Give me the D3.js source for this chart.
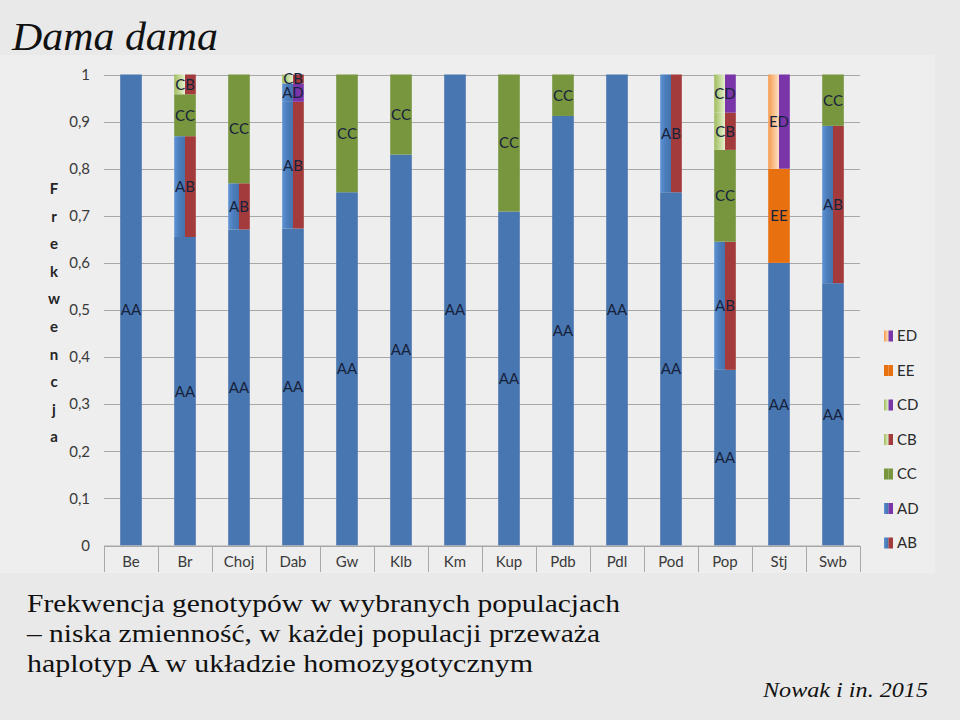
<!DOCTYPE html>
<html><head><meta charset="utf-8">
<script src="https://cdn.jsdelivr.net/npm/d3@7"></script>
<style>html,body{margin:0;padding:0;background:#e9e9e9;}svg{display:block;}</style>
</head><body>
<svg id="c" width="960" height="720"></svg>
<script>
const categories = ["Be","Br","Choj","Dab","Gw","Klb","Km","Kup","Pdb","Pdl","Pod","Pop","Stj","Swb"];
const genotypes = ["AA","AB","AD","CC","CB","CD","EE","ED"];
const AA = [1.000,0.655,0.671,0.673,0.750,0.830,1.000,0.709,0.912,1.000,0.750,0.373,0.600,0.557];
const AB = [0,    0.214,0.098,0.269,0,    0,    0,    0,    0,    0,    0.250,0.272,0,    0.334];
const AD = [0,    0,    0,    0.039,0,    0,    0,    0,    0,    0,    0,    0,    0,    0    ];
const CC = [0,    0.089,0.231,0,    0.250,0.170,0,    0.291,0.088,0,    0,    0.195,0,    0.109];
const CB = [0,    0.042,0,    0.019,0,    0,    0,    0,    0,    0,    0,    0.079,0,    0    ];
const CD = [0,    0,    0,    0,    0,    0,    0,    0,    0,    0,    0,    0.081,0,    0    ];
const EE = [0,    0,    0,    0,    0,    0,    0,    0,    0,    0,    0,    0,    0.200,0    ];
const ED = [0,    0,    0,    0,    0,    0,    0,    0,    0,    0,    0,    0,    0.200,0    ];
const yTicks = [0,0.1,0.2,0.3,0.4,0.5,0.6,0.7,0.8,0.9,1];
const yTitle = "Frekwencja";
const legendItems = ["ED","EE","CD","CB","CC","AD","AB"];
const title = "Dama dama";
const subtitle = ["Frekwencja genotypów w wybranych populacjach","– niska zmienność, w każdej populacji przeważa","haplotyp A w układzie homozygotycznym"];
const source = "Nowak i in. 2015";

const seriesVals = {AA,AB,AD,CC,CB,CD,EE,ED};
const rows = categories.map((c,i)=>{const r={cat:c}; genotypes.forEach(g=>r[g]=seriesVals[g][i]); return r;});

// colours: [left half, right half]
const BLUE="#4876b0", RED="#a33a3b", GREEN="#77963d", PURPLE="#7a35a8", ORANGE="#e8700f";
const colors = {
  AA:[BLUE,BLUE], AB:["gBlue",RED], AD:["gBlue",PURPLE], CC:[GREEN,GREEN],
  CB:["gLgreen",RED], CD:["gLgreen",PURPLE], EE:[ORANGE,ORANGE], ED:["gOrange",PURPLE]
};

const svg = d3.select("#c");
const defs = svg.append("defs");
function grad(id, stops){
  const g = defs.append("linearGradient").attr("id",id).attr("x1","0").attr("x2","1").attr("y1","0").attr("y2","0");
  stops.forEach(s=>g.append("stop").attr("offset",s[0]).attr("stop-color",s[1]));
}
grad("gBlue",[[0,"#5d93d4"],[0.5,"#4b7cbb"],[1,"#4673ac"]]);
grad("gLgreen",[[0,"#9fbc5e"],[0.6,"#c9dca0"],[1,"#e6efcf"]]);
grad("gOrange",[[0,"#f59a4e"],[0.6,"#fbc594"],[1,"#fde1c8"]]);
const fillOf = c => c.startsWith("g") ? `url(#${c})` : c;

// slide background + chart area
svg.append("rect").attr("width",960).attr("height",720).attr("fill","#e9e9e9");
svg.append("rect").attr("x",0).attr("y",55).attr("width",935).attr("height",518).attr("fill","#eeeeee");

const x = d3.scaleBand().domain(categories).range([104,860]).paddingInner(0.6).paddingOuter(0.3);
const y = d3.scaleLinear().domain([0,1]).range([545.5,74.5]);

// gridlines
svg.append("g").selectAll("line").data(yTicks).join("line")
  .attr("x1",104).attr("x2",860).attr("y1",d=>Math.round(y(d))+0.5).attr("y2",d=>Math.round(y(d))+0.5)
  .attr("stroke","#a8a8a8").attr("stroke-width",1);

// y axis labels
const fmt = d => d===0?"0":d===1?"1":d3.format(".1f")(d).replace(".",",");
svg.append("g").selectAll("text").data(yTicks).join("text")
  .attr("x",90).attr("y",d=>y(d)).attr("dy","0.35em").attr("text-anchor","end")
  .attr("font-family","Lato, 'Open Sans', sans-serif").attr("font-size",15).attr("fill","#3a3a3a")
  .text(fmt);

// y title stacked letters
svg.append("g").selectAll("text").data(yTitle.split("")).join("text")
  .attr("x",54).attr("y",(d,i)=>194+i*27.6).attr("text-anchor","middle")
  .attr("font-family","Lato, 'Open Sans', sans-serif").attr("font-weight","bold").attr("font-size",15).attr("fill","#262626")
  .text(d=>d);

// stacked bars
const stack = d3.stack().keys(genotypes)(rows);
const bw = x.bandwidth();
const segs = [];
stack.forEach(layer=>{
  layer.forEach(d=>{
    if (d[1]-d[0] > 1e-6) segs.push({g:layer.key, cat:d.data.cat, y0:d[0], y1:d[1]});
  });
});
const barG = svg.append("g");
segs.forEach(s=>{
  const [cl,cr] = colors[s.g];
  const x0 = x(s.cat), yt = y(s.y1), h = y(s.y0)-y(s.y1);
  if (cl===cr){
    barG.append("rect").attr("x",x0).attr("y",yt).attr("width",bw).attr("height",h).attr("fill",fillOf(cl));
  } else {
    barG.append("rect").attr("x",x0).attr("y",yt).attr("width",bw/2).attr("height",h).attr("fill",fillOf(cl));
    barG.append("rect").attr("x",x0+bw/2).attr("y",yt).attr("width",bw/2).attr("height",h).attr("fill",fillOf(cr));
  }
});
// segment labels
svg.append("g").selectAll("text").data(segs).join("text")
  .attr("x",d=>x(d.cat)+bw/2).attr("y",d=>y((d.y0+d.y1)/2)).attr("dy","0.36em").attr("text-anchor","middle")
  .attr("font-family","Lato, 'Open Sans', sans-serif").attr("font-size",15).attr("fill","#17223d")
  .text(d=>d.g);

// x axis: baseline + separators + labels
const xg = svg.append("g");
xg.append("line").attr("x1",104).attr("x2",860).attr("y1",546).attr("y2",546).attr("stroke","#a8a8a8");
const bounds = categories.map(c=>x(c)-x.step()*0.3).concat([860]);
xg.selectAll("line.sep").data(bounds).join("line").attr("class","sep")
  .attr("x1",d=>Math.round(d)+0.5).attr("x2",d=>Math.round(d)+0.5).attr("y1",546).attr("y2",572)
  .attr("stroke","#a8a8a8");
xg.selectAll("text").data(categories).join("text")
  .attr("x",d=>x(d)+bw/2).attr("y",562).attr("dy","0.35em").attr("text-anchor","middle")
  .attr("font-family","Lato, 'Open Sans', sans-serif").attr("font-size",15).attr("fill","#3a3a3a")
  .text(d=>d);

// legend
const lg = svg.append("g");
legendItems.forEach((g,i)=>{
  const cy = 336 + i*34.5;
  const [cl,cr] = colors[g];
  lg.append("rect").attr("x",884).attr("y",cy-5.5).attr("width",4.5).attr("height",11).attr("fill",fillOf(cl));
  lg.append("rect").attr("x",888.5).attr("y",cy-5.5).attr("width",4.5).attr("height",11).attr("fill",fillOf(cr));
  lg.append("text").attr("x",897).attr("y",cy).attr("dy","0.36em")
    .attr("font-family","Lato, 'Open Sans', sans-serif").attr("font-size",15).attr("fill","#2a2a2a").text(g);
});

// title & texts
svg.append("text").attr("x",12).attr("y",50).attr("font-family","'Liberation Serif', serif").attr("font-style","italic")
  .attr("font-size",40).attr("fill","#111").attr("textLength",206).attr("lengthAdjust","spacingAndGlyphs").text(title);
const subW = [593,573,506];
svg.append("g").selectAll("text").data(subtitle).join("text")
  .attr("x",27).attr("y",(d,i)=>612+i*30).attr("font-family","'Liberation Serif', serif").attr("font-size",26)
  .attr("fill","#111").attr("textLength",(d,i)=>subW[i]).attr("lengthAdjust","spacingAndGlyphs").text(d=>d);
svg.append("text").attr("x",763).attr("y",697).attr("font-family","'Liberation Serif', serif").attr("font-style","italic")
  .attr("font-size",22).attr("fill","#111").attr("textLength",165).attr("lengthAdjust","spacingAndGlyphs").text(source);
</script>
</body></html>
